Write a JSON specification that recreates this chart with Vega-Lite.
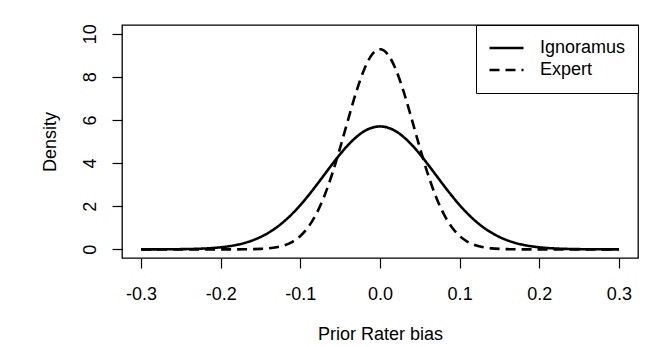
{
  "$schema": "https://vega.github.io/schema/vega-lite/v6.json",
  "width": 516,
  "height": 233,
  "autosize": {"type": "none"},
  "padding": {"left": 122, "top": 25, "right": 32, "bottom": 89},
  "background": "white",
  "config": {
    "font": "Liberation Sans",
    "view": {"stroke": "black", "strokeWidth": 1.3},
    "axis": {
      "domain": false,
      "grid": false,
      "ticks": true,
      "tickColor": "black",
      "tickSize": 10,
      "tickWidth": 1.2,
      "labelFont": "Liberation Sans",
      "labelFontSize": 18,
      "labelColor": "black",
      "titleFont": "Liberation Sans",
      "titleFontSize": 18,
      "titleFontWeight": "normal",
      "titleColor": "black"
    }
  },
  "data": {
    "values": [
      {"x": -0.30, "y": 0.0006, "g": "Ignoramus"},
      {"x": -0.29, "y": 0.0011, "g": "Ignoramus"},
      {"x": -0.28, "y": 0.0019, "g": "Ignoramus"},
      {"x": -0.27, "y": 0.0034, "g": "Ignoramus"},
      {"x": -0.26, "y": 0.0058, "g": "Ignoramus"},
      {"x": -0.25, "y": 0.0097, "g": "Ignoramus"},
      {"x": -0.24, "y": 0.0160, "g": "Ignoramus"},
      {"x": -0.23, "y": 0.0258, "g": "Ignoramus"},
      {"x": -0.22, "y": 0.0408, "g": "Ignoramus"},
      {"x": -0.21, "y": 0.0633, "g": "Ignoramus"},
      {"x": -0.20, "y": 0.0962, "g": "Ignoramus"},
      {"x": -0.19, "y": 0.1433, "g": "Ignoramus"},
      {"x": -0.18, "y": 0.2090, "g": "Ignoramus"},
      {"x": -0.17, "y": 0.2986, "g": "Ignoramus"},
      {"x": -0.16, "y": 0.4183, "g": "Ignoramus"},
      {"x": -0.15, "y": 0.5738, "g": "Ignoramus"},
      {"x": -0.14, "y": 0.7713, "g": "Ignoramus"},
      {"x": -0.13, "y": 1.016, "g": "Ignoramus"},
      {"x": -0.12, "y": 1.311, "g": "Ignoramus"},
      {"x": -0.11, "y": 1.658, "g": "Ignoramus"},
      {"x": -0.10, "y": 2.054, "g": "Ignoramus"},
      {"x": -0.09, "y": 2.494, "g": "Ignoramus"},
      {"x": -0.08, "y": 2.966, "g": "Ignoramus"},
      {"x": -0.07, "y": 3.457, "g": "Ignoramus"},
      {"x": -0.06, "y": 3.947, "g": "Ignoramus"},
      {"x": -0.05, "y": 4.416, "g": "Ignoramus"},
      {"x": -0.04, "y": 4.841, "g": "Ignoramus"},
      {"x": -0.03, "y": 5.199, "g": "Ignoramus"},
      {"x": -0.02, "y": 5.471, "g": "Ignoramus"},
      {"x": -0.01, "y": 5.641, "g": "Ignoramus"},
      {"x": 0.00, "y": 5.699, "g": "Ignoramus"},
      {"x": 0.01, "y": 5.641, "g": "Ignoramus"},
      {"x": 0.02, "y": 5.471, "g": "Ignoramus"},
      {"x": 0.03, "y": 5.199, "g": "Ignoramus"},
      {"x": 0.04, "y": 4.841, "g": "Ignoramus"},
      {"x": 0.05, "y": 4.416, "g": "Ignoramus"},
      {"x": 0.06, "y": 3.947, "g": "Ignoramus"},
      {"x": 0.07, "y": 3.457, "g": "Ignoramus"},
      {"x": 0.08, "y": 2.966, "g": "Ignoramus"},
      {"x": 0.09, "y": 2.494, "g": "Ignoramus"},
      {"x": 0.10, "y": 2.054, "g": "Ignoramus"},
      {"x": 0.11, "y": 1.658, "g": "Ignoramus"},
      {"x": 0.12, "y": 1.311, "g": "Ignoramus"},
      {"x": 0.13, "y": 1.016, "g": "Ignoramus"},
      {"x": 0.14, "y": 0.7713, "g": "Ignoramus"},
      {"x": 0.15, "y": 0.5738, "g": "Ignoramus"},
      {"x": 0.16, "y": 0.4183, "g": "Ignoramus"},
      {"x": 0.17, "y": 0.2986, "g": "Ignoramus"},
      {"x": 0.18, "y": 0.2090, "g": "Ignoramus"},
      {"x": 0.19, "y": 0.1433, "g": "Ignoramus"},
      {"x": 0.20, "y": 0.0962, "g": "Ignoramus"},
      {"x": 0.21, "y": 0.0633, "g": "Ignoramus"},
      {"x": 0.22, "y": 0.0408, "g": "Ignoramus"},
      {"x": 0.23, "y": 0.0258, "g": "Ignoramus"},
      {"x": 0.24, "y": 0.0160, "g": "Ignoramus"},
      {"x": 0.25, "y": 0.0097, "g": "Ignoramus"},
      {"x": 0.26, "y": 0.0058, "g": "Ignoramus"},
      {"x": 0.27, "y": 0.0034, "g": "Ignoramus"},
      {"x": 0.28, "y": 0.0019, "g": "Ignoramus"},
      {"x": 0.29, "y": 0.0011, "g": "Ignoramus"},
      {"x": 0.30, "y": 0.0006, "g": "Ignoramus"},
      {"x": -0.30, "y": 0, "g": "Expert"},
      {"x": -0.29, "y": 0, "g": "Expert"},
      {"x": -0.28, "y": 0, "g": "Expert"},
      {"x": -0.27, "y": 0, "g": "Expert"},
      {"x": -0.26, "y": 0, "g": "Expert"},
      {"x": -0.25, "y": 0, "g": "Expert"},
      {"x": -0.24, "y": 0, "g": "Expert"},
      {"x": -0.23, "y": 0, "g": "Expert"},
      {"x": -0.22, "y": 0, "g": "Expert"},
      {"x": -0.21, "y": 0.0001, "g": "Expert"},
      {"x": -0.20, "y": 0.0002, "g": "Expert"},
      {"x": -0.19, "y": 0.0005, "g": "Expert"},
      {"x": -0.18, "y": 0.0015, "g": "Expert"},
      {"x": -0.17, "y": 0.0037, "g": "Expert"},
      {"x": -0.16, "y": 0.0091, "g": "Expert"},
      {"x": -0.15, "y": 0.0211, "g": "Expert"},
      {"x": -0.14, "y": 0.0463, "g": "Expert"},
      {"x": -0.13, "y": 0.0961, "g": "Expert"},
      {"x": -0.12, "y": 0.1890, "g": "Expert"},
      {"x": -0.11, "y": 0.3521, "g": "Expert"},
      {"x": -0.10, "y": 0.6210, "g": "Expert"},
      {"x": -0.09, "y": 1.038, "g": "Expert"},
      {"x": -0.08, "y": 1.644, "g": "Expert"},
      {"x": -0.07, "y": 2.466, "g": "Expert"},
      {"x": -0.06, "y": 3.505, "g": "Expert"},
      {"x": -0.05, "y": 4.719, "g": "Expert"},
      {"x": -0.04, "y": 6.019, "g": "Expert"},
      {"x": -0.03, "y": 7.274, "g": "Expert"},
      {"x": -0.02, "y": 8.327, "g": "Expert"},
      {"x": -0.01, "y": 9.030, "g": "Expert"},
      {"x": 0.00, "y": 9.278, "g": "Expert"},
      {"x": 0.01, "y": 9.030, "g": "Expert"},
      {"x": 0.02, "y": 8.327, "g": "Expert"},
      {"x": 0.03, "y": 7.274, "g": "Expert"},
      {"x": 0.04, "y": 6.019, "g": "Expert"},
      {"x": 0.05, "y": 4.719, "g": "Expert"},
      {"x": 0.06, "y": 3.505, "g": "Expert"},
      {"x": 0.07, "y": 2.466, "g": "Expert"},
      {"x": 0.08, "y": 1.644, "g": "Expert"},
      {"x": 0.09, "y": 1.038, "g": "Expert"},
      {"x": 0.10, "y": 0.6210, "g": "Expert"},
      {"x": 0.11, "y": 0.3521, "g": "Expert"},
      {"x": 0.12, "y": 0.1890, "g": "Expert"},
      {"x": 0.13, "y": 0.0961, "g": "Expert"},
      {"x": 0.14, "y": 0.0463, "g": "Expert"},
      {"x": 0.15, "y": 0.0211, "g": "Expert"},
      {"x": 0.16, "y": 0.0091, "g": "Expert"},
      {"x": 0.17, "y": 0.0037, "g": "Expert"},
      {"x": 0.18, "y": 0.0015, "g": "Expert"},
      {"x": 0.19, "y": 0.0005, "g": "Expert"},
      {"x": 0.20, "y": 0.0002, "g": "Expert"},
      {"x": 0.21, "y": 0.0001, "g": "Expert"},
      {"x": 0.22, "y": 0, "g": "Expert"},
      {"x": 0.23, "y": 0, "g": "Expert"},
      {"x": 0.24, "y": 0, "g": "Expert"},
      {"x": 0.25, "y": 0, "g": "Expert"},
      {"x": 0.26, "y": 0, "g": "Expert"},
      {"x": 0.27, "y": 0, "g": "Expert"},
      {"x": 0.28, "y": 0, "g": "Expert"},
      {"x": 0.29, "y": 0, "g": "Expert"},
      {"x": 0.30, "y": 0, "g": "Expert"}
    ]
  },
  "mark": {"type": "line", "color": "black", "strokeWidth": 2.6, "interpolate": "monotone", "clip": true},
  "encoding": {
    "x": {
      "field": "x",
      "type": "quantitative",
      "scale": {"domain": [-0.324, 0.324], "nice": false, "zero": false},
      "axis": {
        "values": [-0.3, -0.2, -0.1, 0, 0.1, 0.2, 0.3],
        "format": ".1f",
        "labelExpr": "replace(datum.label, '\u2212', '-')",
        "labelPadding": 17,
        "title": "Prior Rater bias",
        "titlePadding": 22
      }
    },
    "y": {
      "field": "y",
      "type": "quantitative",
      "scale": {"domain": [-0.4, 10.4], "nice": false, "zero": false},
      "axis": {
        "values": [0, 2, 4, 6, 8, 10],
        "labelAngle": -90,
        "labelAlign": "center",
        "labelBaseline": "bottom",
        "labelPadding": 13,
        "title": "Density",
        "titlePadding": 22
      }
    },
    "strokeDash": {
      "field": "g",
      "type": "nominal",
      "scale": {"domain": ["Ignoramus", "Expert"], "range": [[1, 0], [10, 6]]},
      "legend": {
        "title": null,
        "orient": "top-right",
        "offset": 0,
        "strokeColor": "black",
        "fillColor": "white",
        "padding": 12,
        "labelFont": "Liberation Sans",
        "labelFontSize": 18,
        "labelColor": "black",
        "labelOffset": 15,
        "symbolType": "stroke",
        "symbolSize": 1156,
        "symbolStrokeColor": "black",
        "symbolStrokeWidth": 2.6,
        "clipHeight": 22,
        "rowPadding": 0
      }
    }
  }
}
